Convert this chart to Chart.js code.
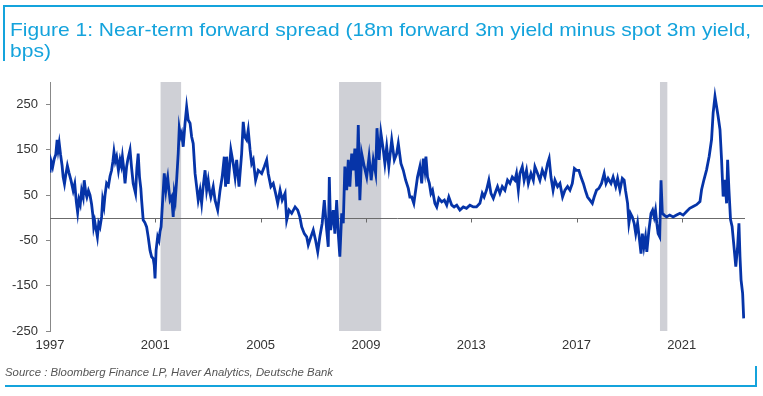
<!DOCTYPE html>
<html>
<head>
<meta charset="utf-8">
<script src="https://cdn.jsdelivr.net/npm/chart.js@4"></script>
<style>
  html, body { margin: 0; padding: 0; background: #fff; }
  #wrap { position: relative; width: 763px; height: 396px; overflow: hidden; }
  #chart { position: absolute; left: 0; top: 0; }
  .rule { position: absolute; background: #14a3dc; }
  #title {
    position: absolute; left: 10px; top: 20px;
    font-family: "Liberation Sans Narrow", "Liberation Sans", Arial, sans-serif; font-size: 19px; line-height: 20.5px;
    color: #14a3dc; white-space: nowrap; transform-origin: 0 0;
  }
  #source {
    position: absolute; left: 5px; top: 366px;
    font-family: "Liberation Sans", Arial, sans-serif; font-size: 11px; font-style: italic;
    color: #555; white-space: nowrap; transform-origin: 0 0;
  }
</style>
</head>
<body>
<div id="wrap">
  <canvas id="chart" width="763" height="396"></canvas>
  <div class="rule" style="left:3px;top:5px;width:760px;height:2px"></div>
  <div class="rule" style="left:3px;top:5px;width:2px;height:56px"></div>
  <div class="rule" style="left:5px;top:385px;width:752px;height:2px"></div>
  <div class="rule" style="left:755px;top:366px;width:2px;height:21px"></div>
  <div id="title"><span id="t1">Figure 1: Near-term forward spread (18m forward 3m yield minus spot 3m yield,</span><br>bps)</div>
  <div id="source"><span id="s1">Source : Bloomberg Finance LP, Haver Analytics, Deutsche Bank</span></div>
</div>
<script>
// data (year, bps)
const years = [
  1997.00,1997.04,1997.10,1997.16,1997.22,1997.27,1997.31,1997.35,1997.40,1997.46,1997.50,1997.55,1997.60,1997.66,1997.72,1997.80,1997.88,1997.94,
  1998.00,1998.05,1998.10,1998.15,1998.20,1998.26,1998.30,1998.36,1998.40,1998.46,1998.52,1998.58,1998.63,1998.66,1998.70,1998.75,1998.80,1998.85,1998.90,1998.96,
  1999.00,1999.05,1999.09,1999.15,1999.22,1999.28,1999.34,1999.39,1999.43,1999.48,1999.53,1999.60,1999.66,1999.71,1999.75,1999.80,1999.85,1999.91,1999.96,
  2000.04,2000.10,2000.16,2000.25,2000.30,2000.35,2000.40,2000.45,2000.48,2000.54,2000.60,2000.67,2000.73,2000.80,2000.86,2000.92,2000.96,2000.99,
  2001.03,2001.09,2001.14,2001.18,2001.22,2001.28,2001.34,2001.40,2001.44,2001.47,2001.52,2001.56,2001.62,2001.68,2001.72,2001.76,2001.81,2001.87,2001.91,2001.96,
  2002.00,2002.06,2002.13,2002.19,2002.25,2002.32,2002.38,2002.44,2002.51,2002.57,2002.63,2002.70,2002.76,2002.82,2002.89,2002.95,
  2003.01,2003.06,2003.11,2003.20,2003.27,2003.37,2003.46,2003.54,2003.62,2003.67,2003.71,2003.77,2003.87,2003.96,
  2004.03,2004.09,2004.18,2004.28,2004.34,2004.40,2004.47,2004.53,2004.60,2004.66,2004.72,2004.81,2004.91,
  2005.04,2005.14,2005.23,2005.29,2005.39,2005.48,2005.57,2005.65,2005.74,2005.82,2005.93,2005.99,
  2006.08,2006.18,2006.31,2006.41,2006.49,2006.56,2006.66,2006.75,2006.81,2006.91,
  2007.00,2007.09,2007.17,2007.25,2007.34,2007.42,2007.51,2007.57,2007.61,2007.66,2007.76,2007.82,2007.89,2007.95,
  2008.01,2008.08,2008.14,2008.20,2008.27,2008.33,2008.39,2008.46,2008.52,2008.58,2008.65,2008.71,2008.77,2008.84,2008.94,
  2009.03,2009.12,2009.20,2009.28,2009.37,2009.42,2009.50,2009.57,2009.66,2009.72,2009.79,2009.87,2009.98,
  2010.08,2010.17,2010.23,2010.33,2010.42,2010.51,2010.61,2010.67,2010.74,2010.82,2010.89,2010.96,
  2011.05,2011.12,2011.18,2011.24,2011.28,2011.34,2011.41,2011.47,2011.53,2011.62,2011.69,2011.77,2011.88,2011.98,
  2012.07,2012.15,2012.26,2012.35,2012.45,2012.57,2012.70,2012.82,2012.95,
  2013.08,2013.20,2013.33,2013.42,2013.49,2013.58,2013.67,2013.75,2013.84,2013.93,
  2014.00,2014.09,2014.18,2014.28,2014.38,2014.47,2014.56,2014.66,2014.72,2014.79,2014.85,2014.94,
  2015.01,2015.10,2015.17,2015.27,2015.36,2015.42,2015.52,2015.61,2015.70,2015.80,2015.90,2015.96,
  2016.03,2016.11,2016.18,2016.28,2016.37,2016.47,2016.56,2016.66,2016.75,2016.84,2016.92,
  2017.00,2017.09,2017.17,2017.26,2017.35,2017.42,2017.51,2017.60,2017.67,2017.76,2017.85,2017.95,
  2018.05,2018.12,2018.20,2018.31,2018.39,2018.49,2018.56,2018.65,2018.74,2018.81,2018.86,2018.94,2018.99,
  2019.05,2019.12,2019.19,2019.25,2019.32,2019.38,2019.45,2019.50,2019.56,2019.62,2019.67,2019.75,2019.83,2019.89,2019.95,
  2020.00,2020.05,2020.10,2020.16,2020.21,2020.26,2020.33,2020.42,2020.54,2020.67,2020.80,2020.93,
  2021.05,2021.18,2021.30,2021.43,2021.56,2021.69,2021.75,2021.84,2021.94,
  2022.04,2022.13,2022.19,2022.26,2022.32,2022.38,2022.45,2022.51,2022.57,2022.64,2022.70,2022.74,2022.79,2022.85,2022.91,2022.98,
  2023.05,2023.12,2023.17,2023.21,2023.25,2023.31,2023.35
];
const spread = [
  100,125,112,130,140,172,150,165,140,115,90,75,95,115,100,82,60,75,
  35,12,40,30,60,45,83,55,46,60,50,30,5,-20,-8,-25,-42,-12,-20,2,
  40,25,50,76,70,92,105,125,146,125,135,105,128,115,135,110,76,113,130,
  150,110,76,54,110,142,90,65,39,-5,-10,-20,-42,-72,-86,-90,-105,-134,
  -72,-42,-50,-30,-20,39,98,61,80,90,60,39,46,2,54,40,83,142,198,180,
  187,157,209,245,216,209,179,164,98,69,39,61,32,70,105,61,
  83,60,46,69,39,17,61,90,135,69,135,75,150,120,
  90,128,69,142,212,179,172,194,150,120,128,83,105,
  98,113,128,98,69,76,54,32,61,39,54,-5,
  17,10,24,17,2,-20,-35,-42,-60,-42,
  -27,-50,-75,-42,-12,39,-27,-64,90,-27,17,-35,39,-35,
  -86,10,-12,113,61,128,69,142,105,153,69,205,39,142,113,
  90,135,83,128,98,198,128,187,150,120,157,113,172,
  128,142,164,120,105,83,65,46,46,32,61,90,
  113,76,131,105,135,90,76,54,61,32,24,43,35,39,
  28,46,28,24,28,17,24,21,28,
  24,24,32,54,46,61,83,54,43,58,
  69,54,69,61,83,76,90,83,98,61,98,113,
  83,105,76,98,83,113,98,83,105,90,120,131,
  90,61,83,69,76,46,61,69,61,76,109,
  105,105,90,76,58,46,39,32,46,61,65,76,
  98,76,87,76,90,69,87,61,87,83,61,32,-12,
  10,2,-12,-35,-12,-42,-79,-35,-64,-42,-75,-27,10,17,2,
  17,-12,-35,-42,83,10,6,2,6,2,6,10,
  6,14,21,25,29,36,62,84,106,
  136,173,232,268,246,224,195,128,47,84,32,128,62,-4,-19,-63,
  -108,-63,-12,-86,-137,-167,-222
];
// US recessions (shaded)
const recStart = [2001.20, 2007.98, 2020.17];
const recEnd   = [2001.98, 2009.58, 2020.45];
const xTicks = [1997, 2001, 2005, 2009, 2013, 2017, 2021];
const yTicks = [-250, -150, -50, 50, 150, 250];

const points = years.map((y, i) => ({ x: y, y: spread[i] }));

// grey recession bars + zero line with its little tick marks
const backdrop = {
  id: 'backdrop',
  beforeDatasetsDraw(chart) {
    const { ctx, chartArea: a, scales: { x, y } } = chart;
    ctx.save();
    ctx.fillStyle = '#cfd0d6';
    recStart.forEach((s, i) => {
      const x0 = x.getPixelForValue(s), x1 = x.getPixelForValue(recEnd[i]);
      ctx.fillRect(x0, a.top, x1 - x0, a.bottom - a.top);
    });
    const y0 = Math.round(y.getPixelForValue(0)) + 0.5;
    ctx.strokeStyle = '#6b6b6b';
    ctx.lineWidth = 1;
    ctx.beginPath();
    ctx.moveTo(a.left, y0);
    ctx.lineTo(a.right, y0);
    xTicks.slice(1).forEach(t => {
      const px = Math.round(x.getPixelForValue(t)) + 0.5;
      ctx.moveTo(px, y0);
      ctx.lineTo(px, y0 + 4);
    });
    ctx.stroke();
    ctx.restore();
  }
};

const tickFont = { family: '"Liberation Sans", Arial, sans-serif', size: 13 };

new Chart(document.getElementById('chart').getContext('2d'), {
  type: 'line',
  data: {
    datasets: [{
      data: points,
      borderColor: '#0634a8',
      borderWidth: 2.8,
      pointRadius: 0,
      tension: 0,
      fill: false
    }]
  },
  options: {
    responsive: false,
    animation: false,
    layout: { padding: { left: 0, top: 82, right: 18, bottom: 40 } },
    plugins: { legend: { display: false }, tooltip: { enabled: false } },
    scales: {
      x: {
        type: 'linear',
        min: 1997,
        max: 2023.4,
        afterBuildTicks: s => { s.ticks = xTicks.map(v => ({ value: v })); },
        afterFit: s => { s.height = 25; },
        grid: { display: false, drawTicks: false },
        border: { display: false },
        ticks: { font: tickFont, color: '#333', padding: 7, maxRotation: 0, autoSkip: false, callback: v => String(v) }
      },
      y: {
        min: -250,
        max: 300,
        afterBuildTicks: s => { s.ticks = yTicks.map(v => ({ value: v })); },
        afterFit: s => { s.width = 50; },
        grid: { drawOnChartArea: false, drawTicks: true, tickLength: 4, color: '#888' },
        border: { display: true, color: '#888', width: 1 },
        ticks: { font: tickFont, color: '#333', padding: 8, autoSkip: false }
      }
    }
  },
  plugins: [backdrop]
});

// stretch the header/footer text to the widths seen in the picture
function fit(boxId, spanId, target) {
  const w = document.getElementById(spanId).getBoundingClientRect().width;
  document.getElementById(boxId).style.transform = 'scaleX(' + (target / w) + ')';
}
fit('title', 't1', 741);
fit('source', 's1', 328);
</script>
</body>
</html>
